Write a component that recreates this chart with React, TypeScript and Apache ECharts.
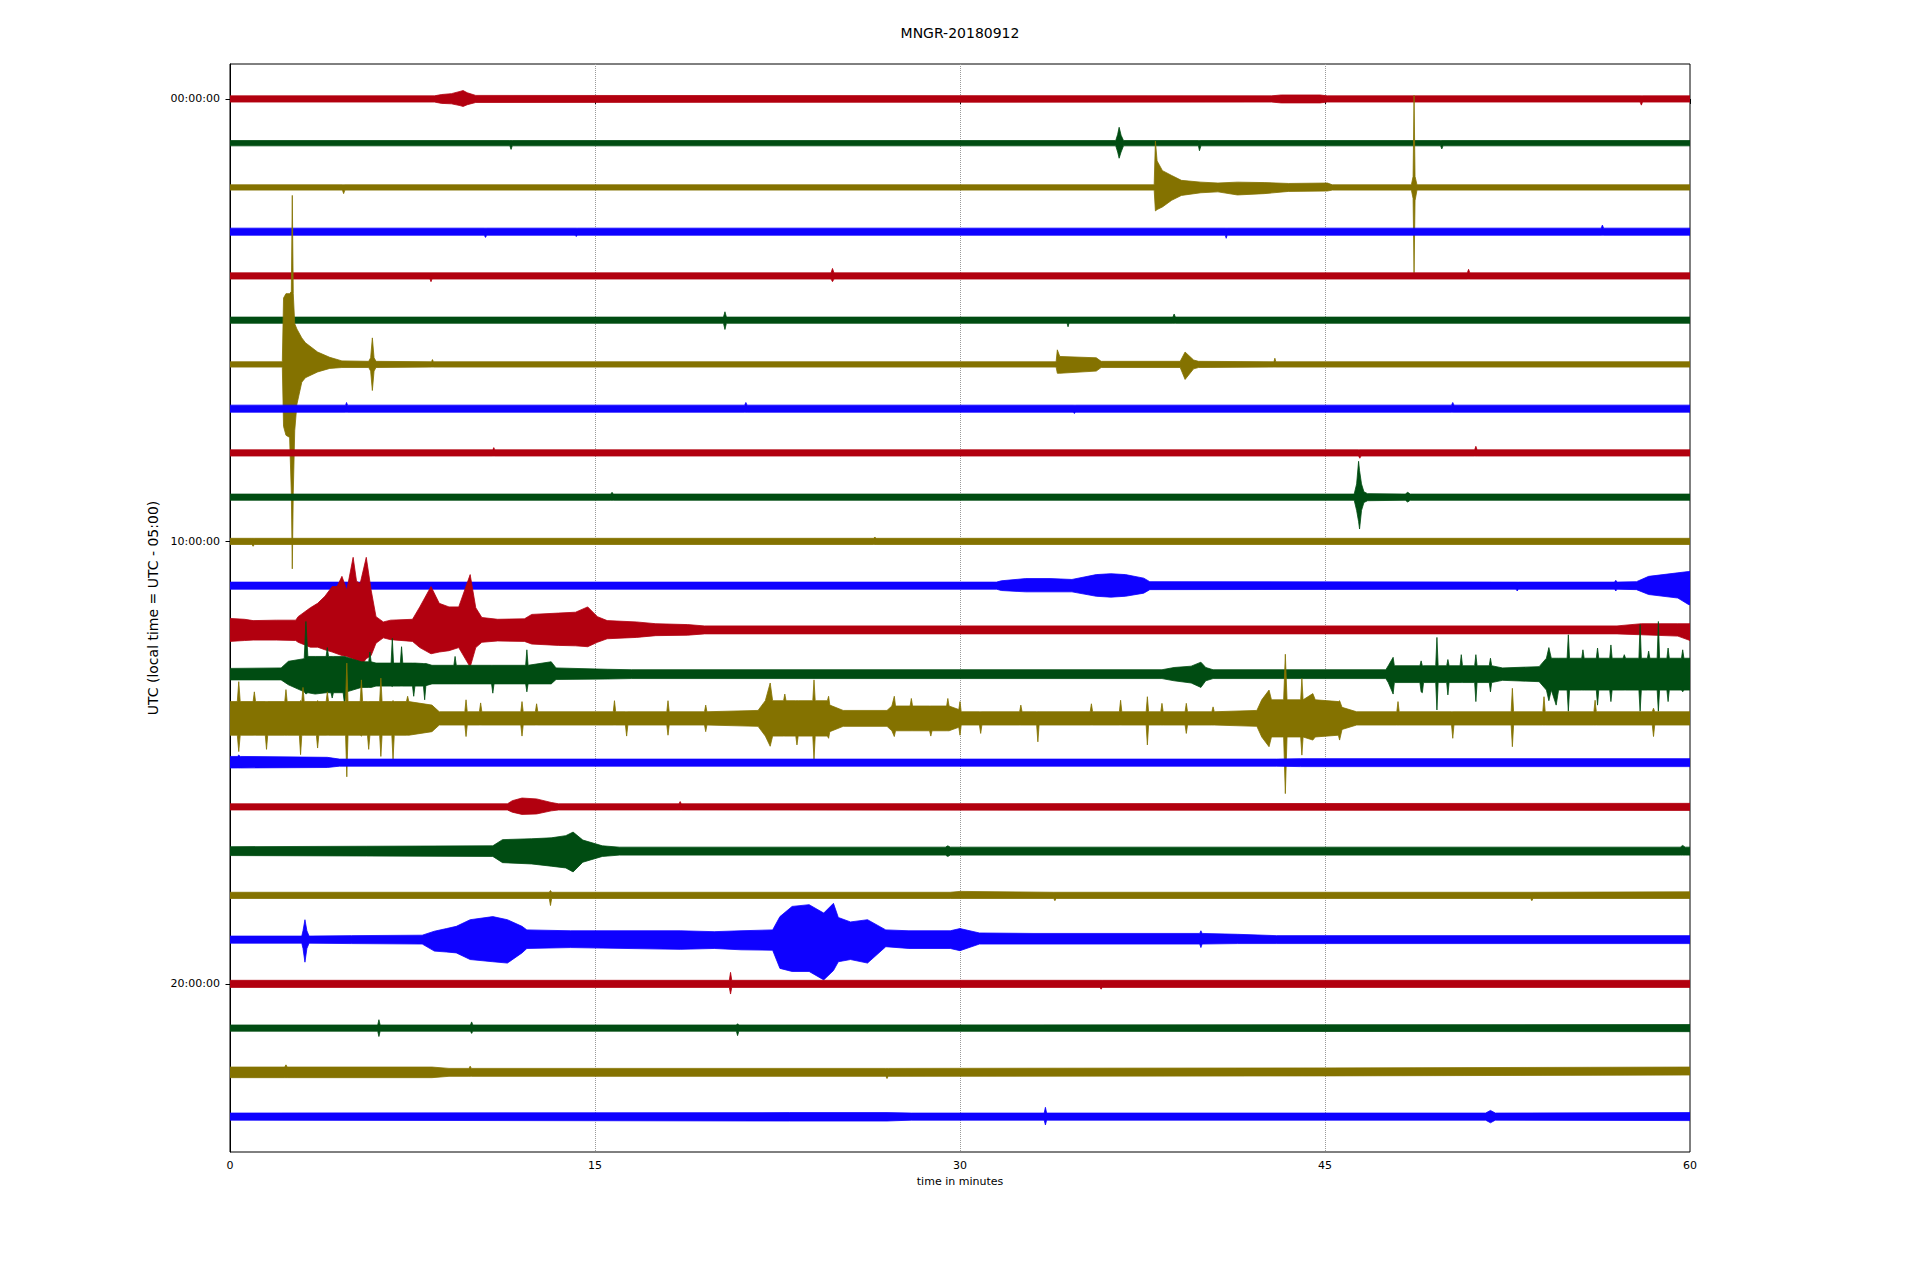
import React, { useEffect, useRef } from "react";
import * as echarts from "echarts";

const FONT = "DejaVu Sans";
const TITLE = "MNGR-20180912";
const X_LABEL = "time in minutes";
const Y_LABEL = "UTC (local time = UTC - 05:00)";
const Y_TICK_ROWS = [0, 10, 20];
const Y_TICK_LABELS = ["00:00:00", "10:00:00", "20:00:00"];
const TRACE_COLORS = ["#B2000F", "#004C12", "#847200", "#0E01FF"];
const AMP_UNIT = 100; // amplitude units per row spacing

// Each trace: envelope points [minute, extent above baseline, extent below baseline]
const T0 = [[0,7,7],[8.4,7,7],[8.7,10,10],[9.1,12,11],[9.45,17,15],[9.58,19,17],[9.75,14,13],[10.1,8,8],[42.8,7,7],[43.2,9,9],[44.8,9,9],[45.1,7,7],[57.95,7,7],[58.0,7,14],[58.05,7,7],[60,7,7]];
const T1 = [[0,6,6],[11.5,6,6],[11.55,6,14],[11.6,6,6],[36.4,6,6],[36.48,20,20],[36.54,36,34],[36.62,18,20],[36.72,6,6],[39.8,6,6],[39.84,6,17],[39.9,6,6],[49.75,6,6],[49.8,6,13],[49.85,6,6],[60,6,6]];
const T2 = [[0,6,6],[4.62,6,6],[4.67,6,14],[4.72,6,6],[37.98,6,6],[38.03,105,53],[38.1,60,50],[38.32,38,44],[38.7,27,29],[39.1,16,18],[39.9,12,12],[40.6,10,10],[41.4,12,17],[42.5,11,14],[43.5,9,9],[45.1,10,8],[45.3,6,6],[48.55,6,6],[48.62,25,25],[48.66,208,193],[48.7,25,30],[48.78,6,6],[60,6,6]];
const T3 = [[0,8,8],[10.45,8,8],[10.5,8,13],[10.55,8,8],[14.18,8,8],[14.23,8,11],[14.28,8,8],[40.9,8,8],[40.94,8,15],[40.98,8,8],[56.35,8,8],[56.4,15,8],[56.45,8,8],[60,8,8]];
const T4 = [[0,7,7],[8.22,7,7],[8.26,7,13],[8.3,7,7],[24.7,7,7],[24.76,17,13],[24.82,7,7],[50.85,7,7],[50.9,15,7],[50.95,7,7],[60,7,7]];
const T5 = [[0,7,7],[20.28,7,7],[20.34,19,21],[20.4,7,7],[34.4,7,7],[34.44,7,15],[34.48,7,7],[38.75,7,7],[38.8,14,7],[38.85,7,7],[60,7,7]];
const T6 = [[0,6,6],[2.15,6,6],[2.2,150,140],[2.3,160,160],[2.45,160,165],[2.52,165,290],[2.56,382,462],[2.6,160,290],[2.66,92,150],[2.75,80,90],[2.95,60,40],[3.1,49,30],[3.6,28,17],[4.1,16,9],[4.6,8,7],[5.7,7,7],[5.78,15,15],[5.85,60,59],[5.92,15,15],[6.0,7,7],[8.28,6,6],[8.32,11,6],[8.36,6,6],[33.95,6,6],[34.0,33,20],[34.1,18,20],[35.6,15,15],[35.8,7,7],[39.05,7,7],[39.25,28,34],[39.6,10,10],[39.8,7,7],[42.9,6,6],[42.94,14,6],[42.98,6,6],[60,6,6]];
const T7 = [[0,8,8],[4.75,8,8],[4.79,14,8],[4.83,8,8],[21.15,8,8],[21.2,14,8],[21.25,8,8],[34.65,8,8],[34.7,8,11],[34.75,8,8],[50.2,8,8],[50.25,14,8],[50.3,8,8],[60,8,8]];
const T8 = [[0,7,7],[10.8,7,7],[10.84,12,7],[10.88,7,7],[46.38,7,7],[46.43,7,12],[46.48,7,7],[51.15,7,7],[51.2,15,7],[51.25,7,7],[60,7,7]];
const T9 = [[0,7,7],[15.65,7,7],[15.7,11,7],[15.75,7,7],[46.2,7,7],[46.3,30,30],[46.38,81,55],[46.42,60,72],[46.5,30,30],[46.6,12,12],[46.75,8,8],[48.3,7,7],[48.4,11,11],[48.5,7,7],[60,7,7]];
const T10 = [[0,7,7],[0.9,7,7],[0.95,7,11],[1.0,7,7],[26.45,7,7],[26.5,10,7],[26.55,7,7],[60,7,7]];
const T11 = [[0,8,8],[31.5,8,8],[31.7,11,11],[32.7,16,14],[33.7,16,14],[34.6,14,14],[35.6,25,24],[36.2,27,26],[36.8,25,24],[37.55,17,17],[37.8,9,9],[52.85,8,8],[52.9,8,12],[52.95,8,8],[56.9,8,8],[56.95,12,12],[57.0,8,8],[57.8,9,9],[58.3,21,20],[59.5,29,28],[59.95,32,43],[60,32,43]];
const T12 = [[0,26,26],[0.6,24,24],[0.95,21,23],[1.9,22,23],[2.7,22,24],[2.8,30,28],[3.3,50,39],[3.6,60,39],[3.9,76,45],[4.2,98,50],[4.4,98,54],[4.6,121,58],[4.8,90,60],[5.06,164,66],[5.2,110,70],[5.35,105,84],[5.6,164,65],[5.8,90,58],[6.0,30,30],[6.3,18,18],[6.6,22,22],[7.5,24,26],[7.8,52,40],[8.26,98,54],[8.6,60,50],[9.0,52,47],[9.4,52,40],[9.87,125,84],[10.1,50,40],[10.35,28,28],[11.0,24,25],[12.1,25,26],[12.4,35,32],[13.5,38,35],[14.2,40,36],[14.7,52,38],[15.1,30,28],[15.5,21,20],[16.7,18,17],[17.5,14,13],[18.8,12,12],[19.5,9,9],[57,9,9],[58,14,11],[59.5,14,14],[60,14,24]];
const T13 = [[0,13,13],[2.1,14,13],[2.4,29,24],[3.05,35,40],[3.12,119,45],[3.2,40,42],[3.5,40,45],[3.95,40,42],[4.0,60,42],[4.05,40,42],[4.15,40,42],[4.2,40,54],[4.25,40,42],[4.65,40,42],[4.7,40,65],[4.8,38,40],[5.4,28,30],[5.7,28,30],[5.75,50,30],[5.8,28,30],[6.0,25,27],[6.62,25,27],[6.67,81,28],[6.72,25,27],[7.0,25,27],[7.05,62,27],[7.1,25,27],[7.5,25,27],[7.55,25,50],[7.6,25,27],[7.95,24,27],[8.0,24,58],[8.05,24,26],[8.3,20,22],[9.2,20,22],[9.25,40,22],[9.3,20,22],[10.75,20,22],[10.8,20,43],[10.85,20,22],[12.15,20,22],[12.2,55,40],[12.25,20,22],[13.2,28,22],[13.4,14,12],[15.5,11,11],[16.5,10,10],[38.3,10,10],[38.8,15,15],[39.5,18,20],[39.9,27,30],[40.1,15,15],[40.4,10,10],[47.5,10,10],[47.6,19,19],[47.8,38,45],[47.85,19,19],[48.9,19,19],[48.95,30,40],[49.0,19,42],[49.05,19,19],[49.55,19,19],[49.6,83,81],[49.65,19,19],[50.0,19,19],[50.05,33,47],[50.1,19,19],[50.55,19,19],[50.6,44,19],[50.65,19,19],[51.15,19,19],[51.2,44,62],[51.25,19,19],[51.75,19,19],[51.8,36,40],[51.85,19,19],[52.3,14,14],[53.8,17,17],[54.1,36,36],[54.2,60,60],[54.3,36,36],[54.5,36,70],[54.6,36,36],[54.95,36,36],[55.0,89,84],[55.05,36,36],[55.55,36,36],[55.6,55,36],[55.65,36,36],[56.15,36,36],[56.2,59,70],[56.25,36,36],[56.7,36,36],[56.75,66,62],[56.8,36,36],[57.25,36,36],[57.3,44,36],[57.35,36,36],[57.9,36,36],[57.95,112,84],[58.0,36,36],[58.25,36,36],[58.3,52,36],[58.35,36,36],[58.65,36,36],[58.7,119,84],[58.75,36,36],[59.05,36,36],[59.1,59,62],[59.15,36,36],[59.65,36,36],[59.7,55,40],[59.75,36,36],[60,36,36]];
const T14 = [[0,38,38],[0.3,38,38],[0.36,83,75],[0.42,38,38],[0.95,38,38],[1.0,60,38],[1.05,38,38],[1.45,38,38],[1.5,38,70],[1.55,38,38],[2.25,38,38],[2.3,65,38],[2.35,38,38],[2.85,38,38],[2.9,40,82],[2.95,38,38],[3.0,70,38],[3.05,38,38],[3.55,38,38],[3.6,40,67],[3.65,38,38],[3.95,38,38],[4.0,60,38],[4.05,38,38],[4.75,38,38],[4.8,125,132],[4.85,38,38],[5.35,38,38],[5.4,87,40],[5.45,38,38],[5.65,38,38],[5.7,38,70],[5.75,38,38],[6.15,38,38],[6.2,91,86],[6.25,38,38],[6.65,38,38],[6.7,40,93],[6.75,38,38],[7.25,38,38],[7.3,50,38],[7.35,38,38],[8.3,30,30],[8.6,15,15],[9.65,15,15],[9.7,42,41],[9.75,15,15],[10.25,15,15],[10.3,35,15],[10.35,15,15],[11.95,15,15],[12.0,38,40],[12.05,15,15],[12.55,15,15],[12.6,33,15],[12.65,15,15],[15.75,15,15],[15.8,40,15],[15.85,15,15],[16.25,15,15],[16.3,15,40],[16.35,15,15],[17.95,15,15],[18.0,40,38],[18.05,15,15],[19.5,15,15],[19.55,30,30],[19.6,15,15],[21.7,18,18],[22.0,40,40],[22.2,80,63],[22.3,40,40],[22.75,40,40],[22.8,55,40],[22.85,40,40],[23.25,40,40],[23.3,40,60],[23.35,40,40],[23.95,40,40],[24.0,87,93],[24.05,40,40],[24.55,40,40],[24.6,50,45],[24.65,30,30],[25.2,18,18],[27.0,18,18],[27.2,28,28],[27.3,50,41],[27.35,28,28],[27.95,28,28],[28.0,45,28],[28.05,28,28],[28.75,28,28],[28.8,28,40],[28.85,28,28],[29.45,28,28],[29.5,45,28],[29.55,28,28],[29.95,20,20],[30.0,38,38],[30.05,15,15],[30.8,15,15],[30.85,15,34],[30.9,15,15],[32.45,15,15],[32.5,30,15],[32.55,15,15],[33.15,15,15],[33.2,15,53],[33.25,15,15],[35.35,15,15],[35.4,33,15],[35.45,15,15],[36.55,15,15],[36.6,41,15],[36.65,15,15],[37.65,15,15],[37.7,49,60],[37.75,15,15],[38.25,15,15],[38.3,34,15],[38.35,15,15],[39.25,15,15],[39.3,34,34],[39.35,15,15],[40.35,15,15],[40.4,26,15],[40.45,15,15],[42.2,18,18],[42.4,42,42],[42.7,64,64],[42.8,42,42],[43.3,42,42],[43.37,145,170],[43.44,42,42],[44.0,42,42],[44.05,90,83],[44.1,42,42],[44.5,56,49],[44.6,42,42],[45.55,38,38],[45.6,40,49],[45.7,25,25],[46.3,15,15],[47.95,15,15],[48.0,38,15],[48.05,15,15],[50.2,15,15],[50.25,15,45],[50.3,15,15],[52.65,15,15],[52.7,68,64],[52.75,15,15],[53.95,15,15],[54.0,49,15],[54.05,15,15],[56.05,15,15],[56.1,41,15],[56.15,15,15],[58.45,15,15],[58.5,23,41],[58.55,15,15],[60,15,15]];
const T15 = [[0,14,12],[0.3,14,12],[0.36,17,12],[0.42,14,12],[4.0,12,11],[4.5,8,8],[43,8,8],[44,9,9],[60,9,9]];
const T16 = [[0,7,7],[11.4,7,7],[11.6,14,12],[12.0,20,17],[12.6,18,16],[13.2,10,9],[13.5,7,7],[18.45,7,7],[18.5,12,7],[18.55,7,7],[60,8,8]];
const T17 = [[0,10,10],[5.6,11,11],[10.8,12,12],[11.2,26,26],[12.4,28,29],[13.2,30,34],[13.8,35,38],[14.1,43,47],[14.5,25,25],[15.3,12,12],[16.0,9,9],[29.4,9,9],[29.5,12,12],[29.6,9,9],[59.6,9,9],[59.7,13,9],[59.8,9,9],[60,9,9]];
const T18 = [[0,7,7],[13.12,7,7],[13.17,11,23],[13.22,7,7],[29.6,7,7],[30,9,7],[33.85,7,7],[33.9,7,12],[33.95,7,7],[53.45,7,7],[53.5,7,12],[53.55,7,7],[60,8,7]];
const T19 = [[0,8,8],[2.95,8,8],[3.0,20,20],[3.08,45,51],[3.16,20,20],[3.25,8,8],[5.0,9,9],[7.9,10,10],[8.4,19,26],[8.9,25,28],[9.3,30,30],[9.87,45,45],[10.8,52,50],[11.4,45,53],[12.0,30,30],[12.2,22,20],[14.0,20,18],[18.5,20,22],[19.9,18,20],[21.0,20,23],[22.3,22,24],[22.6,52,65],[23.1,75,72],[23.8,79,72],[24.4,60,91],[24.8,82,70],[25.0,50,50],[25.5,40,45],[26.2,45,53],[26.95,22,16],[27.9,20,20],[29.6,20,20],[30.0,25,25],[30.8,15,10],[33,14,10],[36,14,10],[39.85,14,10],[39.9,20,18],[39.95,14,10],[41.4,12,9],[43,9,9],[60,9,9]];
const T20 = [[0,8,8],[20.52,8,8],[20.57,26,23],[20.62,8,8],[35.75,8,8],[35.8,8,12],[35.85,8,8],[60,8,8]];
const T21 = [[0,7,7],[6.07,7,7],[6.12,19,19],[6.17,7,7],[9.88,7,7],[9.93,14,12],[9.98,7,7],[20.81,7,7],[20.86,10,17],[20.91,7,7],[60,8,8]];
const T22 = [[0,12,12],[2.25,12,12],[2.3,17,12],[2.35,12,12],[8.3,12,12],[9.0,9,9],[9.82,9,9],[9.87,14,9],[9.92,9,9],[26.95,9,9],[27.0,9,14],[27.05,9,9],[45,10,8],[60,12,6]];
const T23 = [[0,8,8],[23,9,10],[27,9,10],[28,8,8],[33.46,8,8],[33.51,21,19],[33.56,8,8],[51.6,8,8],[51.8,14,14],[52.0,8,8],[60,9,9]];

const TRACES = [T0, T1, T2, T3, T4, T5, T6, T7, T8, T9, T10, T11, T12, T13, T14, T15, T16, T17, T18, T19, T20, T21, T22, T23];

export default function App() {
  const ref = useRef<HTMLDivElement>(null);
  useEffect(() => {
    const chart = echarts.init(ref.current as HTMLDivElement, null, { renderer: "svg" });
    chart.setOption({
      animation: false,
      backgroundColor: "#ffffff",
      title: {
        text: TITLE,
        left: "center",
        top: 21,
        textStyle: { fontFamily: FONT, fontSize: 14, fontWeight: "normal", color: "#000" },
      },
      grid: {
        left: 230,
        top: 64,
        width: 1460,
        height: 1088,
        show: true,
        borderColor: "#000",
        borderWidth: 1,
        backgroundColor: "transparent",
      },
      xAxis: {
        type: "value",
        min: 0,
        max: 60,
        interval: 15,
        name: X_LABEL,
        nameLocation: "middle",
        nameGap: 23,
        nameTextStyle: { fontFamily: FONT, fontSize: 11, color: "#000" },
        axisLine: { show: true, lineStyle: { color: "#000", width: 1 } },
        axisTick: { show: true, inside: false, length: 5, lineStyle: { color: "#000", width: 1 } },
        axisLabel: { fontFamily: FONT, fontSize: 11, color: "#000", margin: 8 },
        splitLine: {
          show: true,
          showMinLine: false,
          showMaxLine: false,
          lineStyle: { type: "dotted", color: "#9a9a9a", width: 1 },
        },
      },
      yAxis: {
        type: "value",
        inverse: true,
        min: -0.79,
        max: 23.8,
        name: Y_LABEL,
        nameLocation: "middle",
        nameGap: 66,
        nameRotate: 90,
        nameTextStyle: { fontFamily: FONT, fontSize: 14, color: "#000" },
        axisLine: { show: true, lineStyle: { color: "#000", width: 1 } },
        axisTick: { show: true, inside: false, length: 4.5, customValues: Y_TICK_ROWS, lineStyle: { color: "#000", width: 1 } },
        axisLabel: {
          fontFamily: FONT,
          fontSize: 11,
          color: "#000",
          margin: 10,
          customValues: Y_TICK_ROWS,
          formatter: (v: number) => {
            const k = Y_TICK_ROWS.indexOf(Math.round(v));
            return k >= 0 ? Y_TICK_LABELS[k] : "";
          },
        },
        splitLine: { show: false },
      },
      series: [
        {
          type: "custom",
          coordinateSystem: "cartesian2d",
          clip: true,
          data: TRACES.map((_, i) => [0, i]),
          encode: { x: 0, y: 1 },
          renderItem: (params: any, api: any) => {
            const i = params.dataIndex;
            const tr = TRACES[i];
            const top = tr.map((p) => api.coord([p[0], i - p[1] / AMP_UNIT]));
            const bot = tr
              .slice()
              .reverse()
              .map((p) => api.coord([p[0], i + p[2] / AMP_UNIT]));
            const color = TRACE_COLORS[i % TRACE_COLORS.length];
            return {
              type: "polygon",
              shape: { points: top.concat(bot) },
              style: { fill: color, stroke: color, lineWidth: 0.8 },
            };
          },
        },
      ],
    });
    return () => chart.dispose();
  }, []);
  return <div ref={ref} style={{ position: "absolute", left: 0, top: 0, width: 1920, height: 1280 }} />;
}
